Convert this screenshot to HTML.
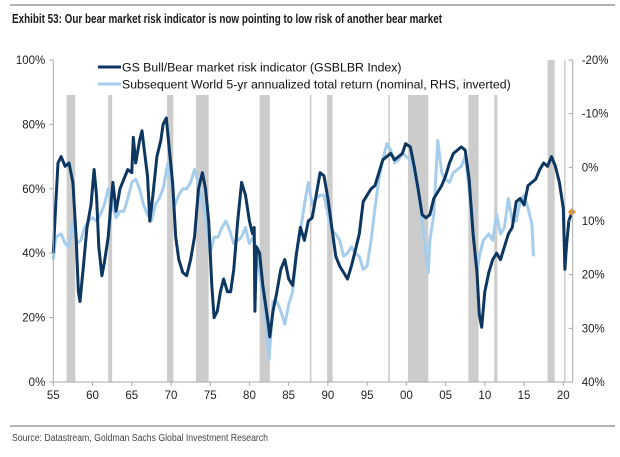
<!DOCTYPE html>
<html><head><meta charset="utf-8"><style>
body{margin:0;background:#fff;}
#wrap{position:relative;width:620px;height:457px;overflow:hidden;font-family:"Liberation Sans",sans-serif;}
svg text{font-family:"Liberation Sans",sans-serif;}
</style></head><body>
<div id="wrap">
<svg id="chart" width="620" height="457">
<line x1="10" y1="5" x2="615" y2="5" stroke="#666" stroke-width="1"/>
<text x="12" y="23" font-size="13" font-weight="bold" fill="#1a1a1a" style="font-family:'Liberation Sans Narrow','Liberation Sans',sans-serif;font-stretch:condensed" textLength="430" lengthAdjust="spacingAndGlyphs">Exhibit 53: Our bear market risk indicator is now pointing to low risk of another bear market</text>
<line x1="10" y1="426" x2="615" y2="426" stroke="#666" stroke-width="1"/>
<text x="12" y="441" font-size="10" fill="#444" style="font-family:'Liberation Sans Narrow','Liberation Sans',sans-serif;font-stretch:condensed" textLength="256" lengthAdjust="spacingAndGlyphs">Source: Datastream, Goldman Sachs Global Investment Research</text>
<g id="bars"></g><g id="series"></g><g id="axes"></g>
<g>
<line x1="98" y1="67" x2="121" y2="67" stroke="#0d3760" stroke-width="3"/>
<text x="122" y="71.5" font-size="12.3" fill="#111">GS Bull/Bear market risk indicator (GSBLBR Index)</text>
<line x1="98" y1="84" x2="121" y2="84" stroke="#a7cdec" stroke-width="3"/>
<text x="122" y="88.5" font-size="12.3" fill="#111">Subsequent World 5-yr annualized total return (nominal, RHS, inverted)</text>
</g>
</svg>
</div>
<script>
const recessions=[[56.7,57.8,95],[62.0,62.5,95],[69.5,70.3,95],[73.2,74.8,95],[81.3,82.6,95],[87.7,87.9,95],[89.9,90.6,95],[97.7,97.9,95],[100.2,102.8,95],[107.9,109.2,95],[111.2,111.6,95],[118.0,118.9,60],[120.1,120.2,60]];
const darkYears=[55.0,55.3,55.6,56.0,56.5,57.0,57.5,57.9,58.2,58.4,58.8,59.3,59.8,60.2,60.5,60.8,61.2,61.5,62.0,62.4,62.6,63.0,63.5,64.0,64.5,65.0,65.2,65.5,66.0,66.3,66.6,67.0,67.3,67.7,68.2,68.7,69.0,69.4,69.8,70.2,70.6,71.0,71.5,72.0,72.5,73.0,73.5,74.0,74.4,74.8,75.2,75.5,75.9,76.3,76.7,77.2,77.6,78.0,78.5,79.0,79.5,80.0,80.4,80.6,80.7,80.9,81.3,81.7,82.0,82.4,82.6,83.0,83.5,84.0,84.5,85.0,85.5,86.0,86.5,87.0,87.5,88.0,89.0,89.5,90.0,90.5,91.0,91.5,92.0,92.5,93.0,93.5,94.0,94.5,95.0,95.5,96.0,96.5,97.0,97.5,98.0,98.5,99.0,99.5,99.9,100.5,101.0,101.5,102.0,102.5,103.0,103.5,104.0,104.5,105.0,105.5,106.0,106.5,107.0,107.5,108.0,108.5,109.0,109.3,109.6,110.0,110.5,111.0,111.5,112.0,112.5,113.0,113.5,114.0,114.5,115.0,115.5,116.0,116.5,117.0,117.5,118.0,118.5,119.0,119.5,120.0,120.2,120.4,120.7,121.0];
const darkValues=[40,55,68,70,67,68,62,45,28,25,35,48,55,66,58,42,33,37,45,57,62,53,60,63,66,65,76,68,75,78,72,64,50,58,70,75,80,82,72,62,45,38,34,33,38,45,60,65,60,50,30,20,22,28,32,28,28,35,50,62,58,50,46,48,22,42,40,30,25,18,14,22,28,35,38,32,30,40,48,44,50,51,65,64,57,48,39,36,34,32,36,41,46,56,58,60,61,65,69,70,71,69,70,71,74,73,67,60,52,51,52,57,59,61,64,68,71,72,73,72,63,46,34,21,17,28,34,38,40,38,42,46,48,56,57,55,61,62,63,66,68,67,70,67,62,54,35,42,50,52];
const lightYears=[55.0,55.3,56.0,56.5,57.0,57.5,58.0,58.5,59.0,59.5,60.0,60.5,61.0,61.5,62.0,62.5,63.0,63.5,64.0,64.5,65.0,65.5,66.0,66.5,67.0,67.5,68.0,68.5,69.0,69.6,70.0,70.5,71.0,71.5,72.0,72.5,73.0,73.5,74.0,74.5,75.0,75.5,76.0,76.5,77.0,77.5,78.0,78.5,79.0,79.5,80.0,80.5,81.0,81.5,82.0,82.5,83.0,83.5,84.0,84.5,85.0,85.5,86.0,86.5,87.0,87.5,88.0,88.5,89.0,89.5,90.0,90.5,91.0,91.5,92.0,92.5,93.0,93.5,94.0,94.5,95.0,95.5,96.0,96.5,97.0,97.5,98.0,98.5,99.0,99.5,100.0,100.5,101.0,101.5,102.0,102.5,102.8,103.0,103.5,104.0,104.5,105.0,105.5,106.0,106.5,107.0,107.5,108.0,108.5,109.0,109.3,109.8,110.5,111.0,111.5,112.0,112.5,113.0,113.5,114.0,114.5,115.0,115.5,116.0,116.2];
const lightReturns=[17.2,13,12.4,14.2,14.8,10,14.2,13.6,11.2,10,9.4,10,8.8,7,4,7,9.4,8.2,8.2,5.8,2.8,2.2,4,7,8.8,10,7,5.8,4,-0.8,2.8,7,5.2,4,4,2.8,0.4,2.8,6.4,10,16,13,13,11.2,10,11.8,14.2,13.6,13,11.2,14.2,13,16,22,26.8,35.8,25,25,26.8,29.2,25.6,23.2,16,11.8,7,2.8,7,5.8,5.2,5.2,8.8,11.8,12.4,13.6,16.6,16,14.8,16,16.6,19,18.4,13.6,7.6,2.2,-1.4,-4.4,-3.2,-0.8,-1.4,-2.6,-2,-1.4,1,4.6,10,16,19.6,13.6,8.8,-5,1,2.2,2.8,1,0.4,-0.2,-2,4,12.4,19.6,16.6,13.6,12.4,13.6,8.8,12.4,11.2,5.8,10,10,6.4,5.2,7.6,10.6,16.6];
const leftTicks=[0,20,40,60,80,100];
const rightTicks=[-20,-10,0,10,20,30,40];
const xTicks=[55,60,65,70,75,80,85,90,95,100,105,110,115,120];
const lastPoint=[121.1,52.8];

const X0=53.3,X1=572.7,YT=60,YB=382;
const xS=y=>X0+(y-55)*7.846;
const yL=v=>YB-(v/100)*(YB-YT);
const yR=r=>YT+(r+20)/60*(YB-YT);
const NS='http://www.w3.org/2000/svg';
function mk(tag,parent,attrs){const e=document.createElementNS(NS,tag);for(const k in attrs)e.setAttribute(k,attrs[k]);parent.appendChild(e);return e;}
const bars=document.getElementById('bars'),ser=document.getElementById('series'),ax=document.getElementById('axes');
recessions.forEach(r=>{const w=Math.max(1.5,xS(r[1])-xS(r[0]));
 const e=mk('rect',bars,{x:xS(r[0]),y:r[2],width:w,height:YB-r[2],fill:'#cccccc'});
 
 });
let d=lightYears.map((y,i)=>(i?'L':'M')+xS(y).toFixed(1)+','+yR(lightReturns[i]).toFixed(1)).join('');
let p=mk('path',ser,{d:d,fill:'none',stroke:'#a7cdec','stroke-width':3,'stroke-linejoin':'round'});


d=darkYears.map((y,i)=>(i?'L':'M')+xS(y).toFixed(1)+','+yL(darkValues[i]).toFixed(1)).join('');
p=mk('path',ser,{d:d,fill:'none',stroke:'#0d3760','stroke-width':3,'stroke-linejoin':'round'});


const cx=xS(lastPoint[0]),cy=yL(lastPoint[1]);
p=mk('path',ser,{d:`M${cx},${cy-4}L${cx+4},${cy}L${cx},${cy+4}L${cx-4},${cy}Z`,fill:'#f08a24'});


let a=mk('path',ax,{d:`M${X0},${YT}V${YB}H${X1}V${YT}`,fill:'none',stroke:'#aaa','stroke-width':1});


leftTicks.forEach(v=>{const y=yL(v);mk('line',ax,{x1:X0-4,x2:X0,y1:y,y2:y,stroke:'#aaa'});
 const t=mk('text',ax,{x:X0-8,y:y+4,'font-size':11.5,'text-anchor':'end',fill:'#222'});t.textContent=v+'%';
 
 });
rightTicks.forEach(v=>{const y=yR(v);mk('line',ax,{x1:X1-4,x2:X1,y1:y,y2:y,stroke:'#aaa'});
 const t=mk('text',ax,{x:X1+9,y:y+4,'font-size':11.5,'text-anchor':'start',fill:'#222'});t.textContent=v+'%';
 
 });
xTicks.forEach(v=>{const x=xS(v);mk('line',ax,{x1:x,x2:x,y1:YB,y2:YB+4,stroke:'#aaa'});
 const t=mk('text',ax,{x:x,y:YB+17,'font-size':11.5,'text-anchor':'middle',fill:'#222'});t.textContent=String(v%100).padStart(2,'0');
 
 });
</script>
</body></html>
